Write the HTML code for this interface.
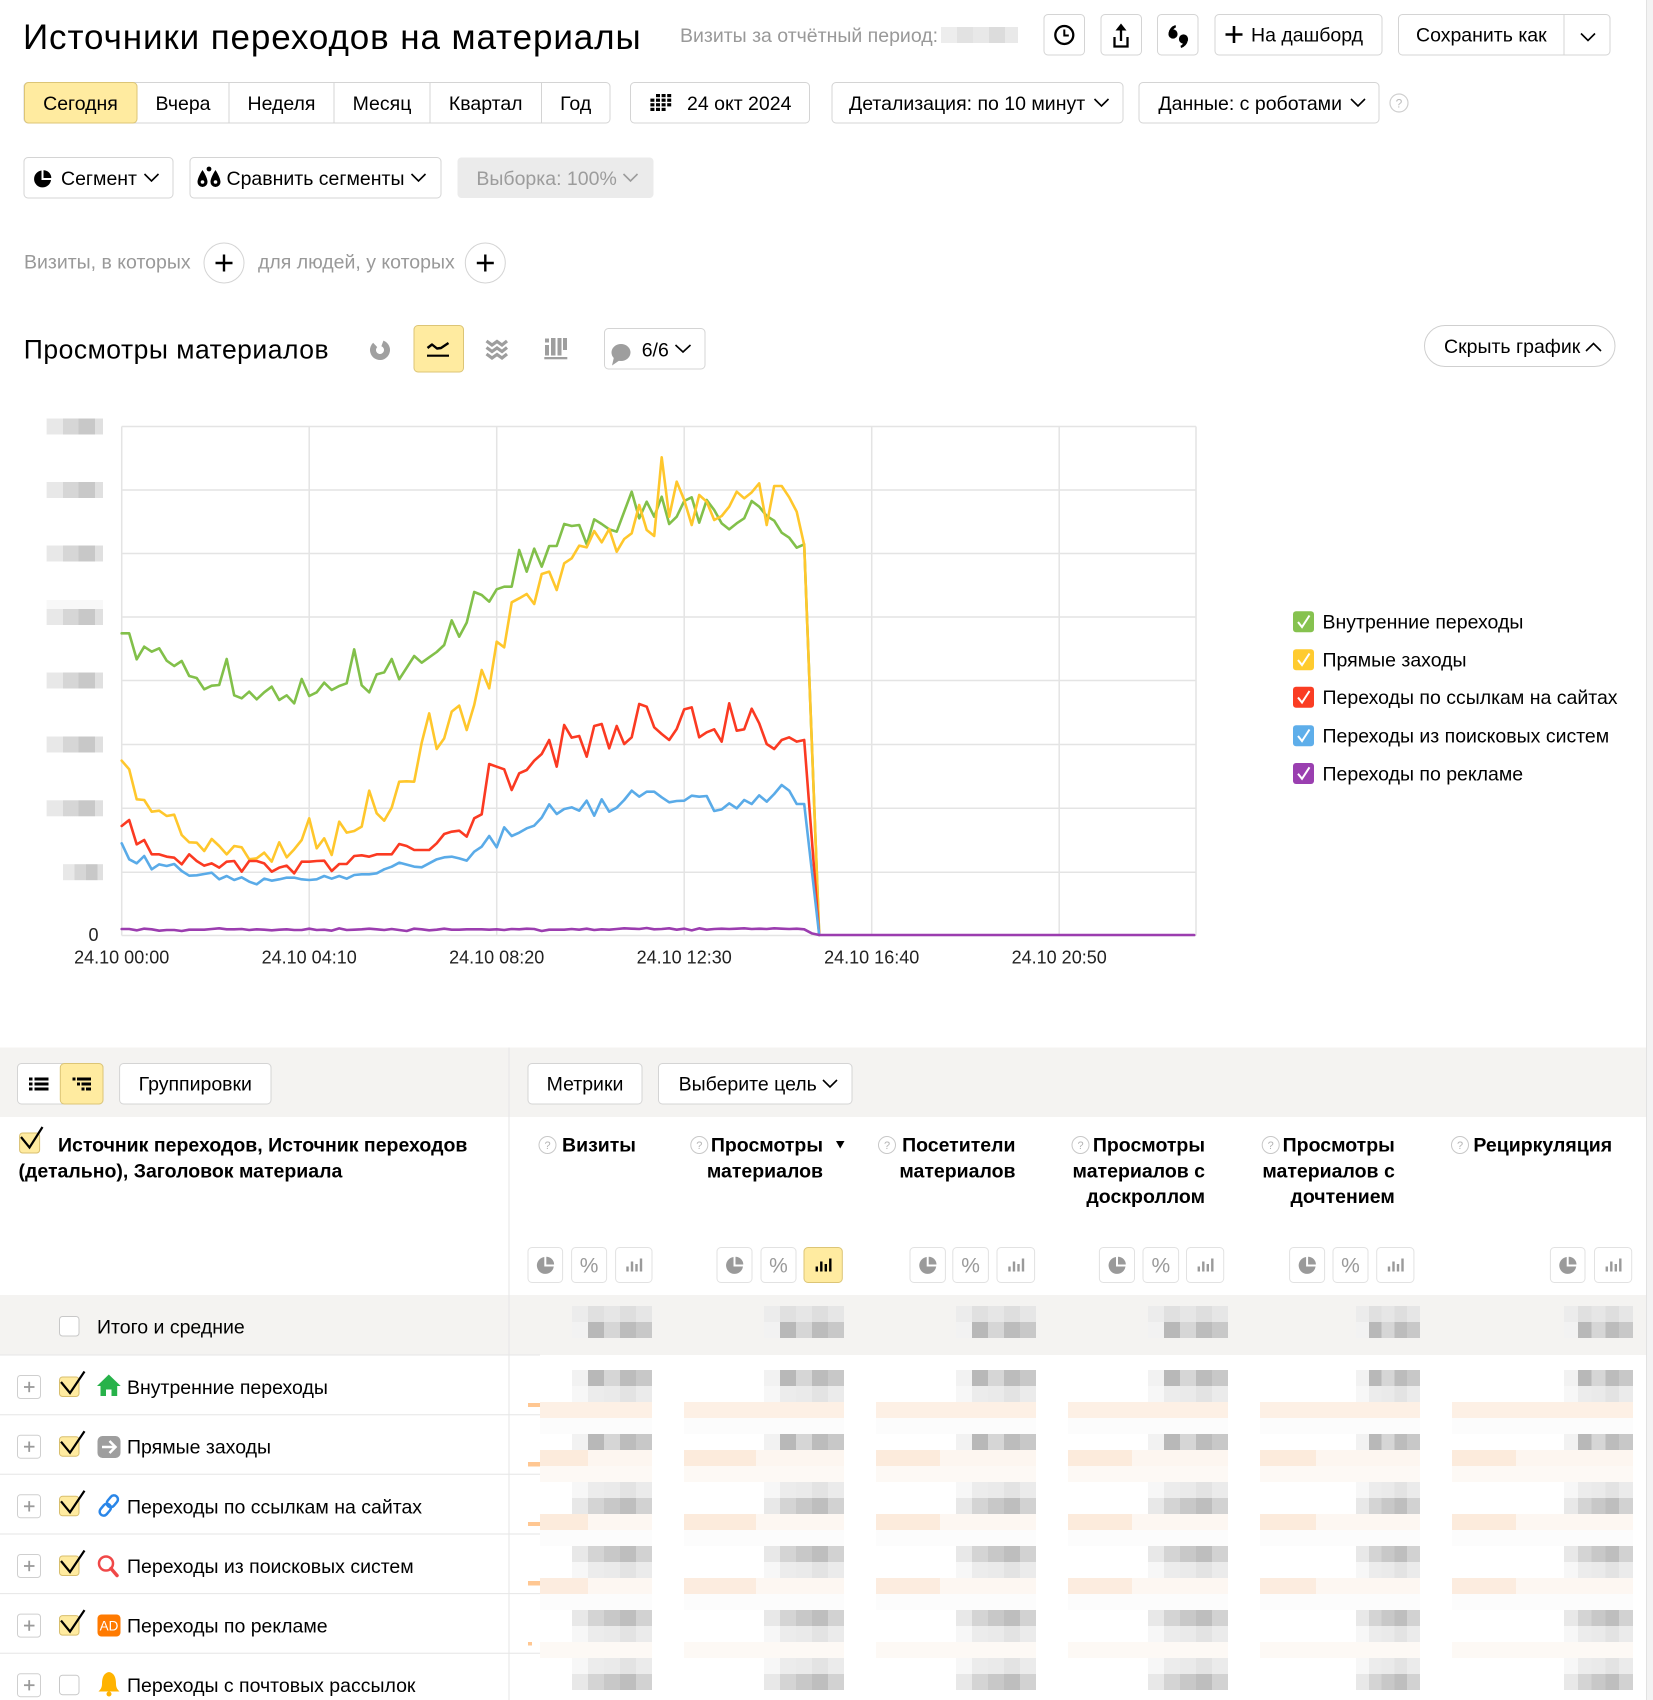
<!DOCTYPE html>
<html lang="ru">
<head>
<meta charset="utf-8">
<title>Источники переходов на материалы</title>
<style>
html,body{margin:0;padding:0;background:#fff;}
body{width:1653px;height:1700px;overflow:hidden;}
svg{display:block;}
text{font-family:"Liberation Sans",Arial,sans-serif;font-size:19.5px;fill:#000;}
.g{fill:#999;}
.bd{font-weight:bold;}
.btn{fill:#fff;stroke:#d4d4d4;stroke-width:1;}
.sb{fill:#fff;stroke:#e2e2e2;stroke-width:1;}
.chev{fill:none;stroke:#000;stroke-width:1.6;}
.grid{stroke:#e4e4e4;stroke-width:1.5;}
.ser{fill:none;stroke-width:2.6;stroke-linejoin:round;stroke-linecap:round;}
.q{fill:none;stroke:#c8c8c8;stroke-width:1;}
.qt{font-size:11px;fill:#b4b4b4;}
.ax{font-size:18px;fill:#222;}
</style>
</head>
<body>
<svg width="1653" height="1700" viewBox="0 0 1653 1700" xmlns="http://www.w3.org/2000/svg">
<defs>
  <linearGradient id="gd"><stop offset="0" stop-color="#f2f2f2"/><stop offset=".2" stop-color="#f2f2f2"/><stop offset=".2" stop-color="#b8b8b8"/><stop offset=".4" stop-color="#b8b8b8"/><stop offset=".4" stop-color="#d6d6d6"/><stop offset=".6" stop-color="#d6d6d6"/><stop offset=".6" stop-color="#bcbcbc"/><stop offset=".8" stop-color="#bcbcbc"/><stop offset=".8" stop-color="#c8c8c8"/><stop offset="1" stop-color="#c8c8c8"/></linearGradient>
  <linearGradient id="gm"><stop offset="0" stop-color="#e8e8e8"/><stop offset=".2" stop-color="#e8e8e8"/><stop offset=".2" stop-color="#d4d4d4"/><stop offset=".4" stop-color="#d4d4d4"/><stop offset=".4" stop-color="#c8c8c8"/><stop offset=".6" stop-color="#c8c8c8"/><stop offset=".6" stop-color="#bebebe"/><stop offset=".8" stop-color="#bebebe"/><stop offset=".8" stop-color="#d2d2d2"/><stop offset="1" stop-color="#d2d2d2"/></linearGradient>
  <linearGradient id="gl"><stop offset="0" stop-color="#f7f7f7"/><stop offset=".2" stop-color="#f7f7f7"/><stop offset=".2" stop-color="#ececec"/><stop offset=".4" stop-color="#ececec"/><stop offset=".4" stop-color="#eaeaea"/><stop offset=".6" stop-color="#eaeaea"/><stop offset=".6" stop-color="#e3e3e3"/><stop offset=".8" stop-color="#e3e3e3"/><stop offset=".8" stop-color="#ebebeb"/><stop offset="1" stop-color="#ebebeb"/></linearGradient>
  <linearGradient id="gt"><stop offset="0" stop-color="#ececec"/><stop offset=".2" stop-color="#ececec"/><stop offset=".2" stop-color="#e0e0e0"/><stop offset=".4" stop-color="#e0e0e0"/><stop offset=".4" stop-color="#e6e6e6"/><stop offset=".6" stop-color="#e6e6e6"/><stop offset=".6" stop-color="#dedede"/><stop offset=".8" stop-color="#dedede"/><stop offset=".8" stop-color="#e6e6e6"/><stop offset="1" stop-color="#e6e6e6"/></linearGradient>
  <linearGradient id="gy"><stop offset="0" stop-color="#e8e8e8"/><stop offset=".29" stop-color="#e8e8e8"/><stop offset=".29" stop-color="#d6d6d6"/><stop offset=".57" stop-color="#d6d6d6"/><stop offset=".57" stop-color="#c8c8c8"/><stop offset=".86" stop-color="#c8c8c8"/><stop offset=".86" stop-color="#e0e0e0"/><stop offset="1" stop-color="#e0e0e0"/></linearGradient>
  <g id="cv">
    <rect x="572" y="0" width="80" height="16"/>
    <rect x="764" y="0" width="80" height="16"/>
    <rect x="956" y="0" width="80" height="16"/>
    <rect x="1148" y="0" width="80" height="16"/>
    <rect x="1356" y="0" width="64" height="16"/>
    <rect x="1564" y="0" width="69" height="16"/>
  </g>
  <g id="pf">
    <rect x="540" y="0" width="112" height="16"/>
    <rect x="684" y="0" width="160" height="16"/>
    <rect x="876" y="0" width="160" height="16"/>
    <rect x="1068" y="0" width="160" height="16"/>
    <rect x="1260" y="0" width="160" height="16"/>
    <rect x="1452" y="0" width="181" height="16"/>
  </g>
  <g id="pp">
    <rect x="540" y="0" width="48" height="16"/>
    <rect x="684" y="0" width="72" height="16"/>
    <rect x="876" y="0" width="64" height="16"/>
    <rect x="1068" y="0" width="64" height="16"/>
    <rect x="1260" y="0" width="56" height="16"/>
    <rect x="1452" y="0" width="64" height="16"/>
  </g>
  <g id="ipie">
    <path d="M-1,1 L-1,-8.5 A8.5,8.5 0 1,0 8.5,1 Z"/>
    <path d="M1,-1 L1,-8.8 A7.8,7.8 0 0,1 8.8,-1 Z"/>
  </g>
  <g id="ibar">
    <rect x="-8" y="2" width="2.4" height="5"/>
    <rect x="-3.5" y="-3" width="2.4" height="10"/>
    <rect x="1" y="-0.5" width="2.4" height="7.5"/>
    <rect x="5.5" y="-6" width="2.4" height="13"/>
  </g>
</defs>

<!-- scrollbar strip -->
<rect x="1646" y="0" width="7" height="1700" fill="#f3f3f3"/>
<line x1="1646.5" y1="0" x2="1646.5" y2="1700" stroke="#e2e2e2"/>

<!-- ===== HEADER ===== -->
<text x="23" y="49" letter-spacing="0.9" style="font-size:35px">Источники переходов на материалы</text>
<text x="680" y="42" class="g">Визиты за отчётный период:</text>
<rect x="941" y="27" width="16" height="16" fill="#ededed"/>
<rect x="957" y="27" width="16" height="16" fill="#e2e2e2"/>
<rect x="973" y="27" width="16" height="16" fill="#e8e8e8"/>
<rect x="989" y="27" width="16" height="16" fill="#dcdcdc"/>
<rect x="1005" y="27" width="13" height="16" fill="#e9e9e9"/>

<rect class="btn" x="1044" y="14.5" width="40.5" height="40.5" rx="4"/>
<circle cx="1064.3" cy="35" r="9" fill="none" stroke="#000" stroke-width="2.3"/>
<polyline points="1064.3,29.5 1064.3,35.5 1068.8,35.5" fill="none" stroke="#000" stroke-width="2"/>

<rect class="btn" x="1101" y="14.5" width="40.5" height="40.5" rx="4"/>
<path d="M1114.5,37 V46.5 H1127.5 V37" fill="none" stroke="#000" stroke-width="2.3"/>
<line x1="1121" y1="28" x2="1121" y2="41" stroke="#000" stroke-width="2.3"/>
<polygon points="1115.5,30.5 1121,23.5 1126.5,30.5" fill="#000"/>

<rect class="btn" x="1157.5" y="14.5" width="40.5" height="40.5" rx="4"/>
<circle cx="1173" cy="34" r="4.6" fill="#000"/>
<path d="M1168.6,33 Q1169.5,27 1175.5,25 L1176,27.2 Q1172.5,29 1172.8,32 Z" fill="#000"/>
<circle cx="1183.5" cy="39" r="4.6" fill="#000"/>
<path d="M1187.9,40 Q1187,46 1181,48 L1180.5,45.8 Q1184,44 1183.7,41 Z" fill="#000"/>

<rect class="btn" x="1215" y="14.5" width="167" height="40.5" rx="4"/>
<line x1="1234" y1="26" x2="1234" y2="43" stroke="#000" stroke-width="2.6"/>
<line x1="1225.5" y1="34.5" x2="1242.5" y2="34.5" stroke="#000" stroke-width="2.6"/>
<text x="1251" y="41.7">На дашборд</text>

<rect class="btn" x="1398.5" y="14.5" width="211.5" height="40.5" rx="4"/>
<line x1="1564" y1="14.5" x2="1564" y2="55" stroke="#d4d4d4"/>
<text x="1416" y="41.7">Сохранить как</text>
<polyline class="chev" points="1581,33.5 1588,40.5 1595,33.5"/>

<!-- row 2 -->
<rect class="btn" x="24" y="82.5" width="586" height="40.5" rx="4"/>
<rect x="24.5" y="82.5" width="112.5" height="40.5" rx="4" fill="#ffeba0" stroke="#dcc576"/>
<line x1="229" y1="82.5" x2="229" y2="123" stroke="#d4d4d4"/>
<line x1="334" y1="82.5" x2="334" y2="123" stroke="#d4d4d4"/>
<line x1="430" y1="82.5" x2="430" y2="123" stroke="#d4d4d4"/>
<line x1="541.5" y1="82.5" x2="541.5" y2="123" stroke="#d4d4d4"/>
<text x="80.5" y="109.8" text-anchor="middle">Сегодня</text>
<text x="183" y="109.8" text-anchor="middle">Вчера</text>
<text x="281.5" y="109.8" text-anchor="middle">Неделя</text>
<text x="382" y="109.8" text-anchor="middle">Месяц</text>
<text x="485.7" y="109.8" text-anchor="middle">Квартал</text>
<text x="575.7" y="109.8" text-anchor="middle">Год</text>

<rect class="btn" x="630.5" y="82.5" width="179" height="40.5" rx="4"/>
<g fill="#000">
  <rect x="656" y="94" width="4" height="3.2"/><rect x="661.6" y="94" width="4" height="3.2"/><rect x="667.2" y="94" width="4" height="3.2"/>
  <rect x="650.4" y="98.6" width="4" height="3.2"/><rect x="656" y="98.6" width="4" height="3.2"/><rect x="661.6" y="98.6" width="4" height="3.2"/><rect x="667.2" y="98.6" width="4" height="3.2"/>
  <rect x="650.4" y="103.2" width="4" height="3.2"/><rect x="656" y="103.2" width="4" height="3.2"/><rect x="661.6" y="103.2" width="4" height="3.2"/><rect x="667.2" y="103.2" width="4" height="3.2"/>
  <rect x="650.4" y="107.8" width="4" height="3.2"/><rect x="656" y="107.8" width="4" height="3.2"/><rect x="661.6" y="107.8" width="4" height="3.2"/>
</g>
<text x="687" y="109.8">24 окт 2024</text>

<rect class="btn" x="832" y="82.5" width="291" height="40.5" rx="4"/>
<text x="849" y="109.8">Детализация: по 10 минут</text>
<polyline class="chev" points="1094.5,99 1101.5,106 1108.5,99"/>

<rect class="btn" x="1139" y="82.5" width="240" height="40.5" rx="4"/>
<text x="1158.4" y="109.8">Данные: с роботами</text>
<polyline class="chev" points="1351,99 1358,106 1365,99"/>

<circle cx="1399" cy="103" r="9" fill="none" stroke="#cfcfcf" stroke-width="1.2"/>
<text x="1399" y="107.5" text-anchor="middle" style="font-size:12px;fill:#bbb">?</text>

<!-- row 3 -->
<rect class="btn" x="24" y="157.5" width="149" height="40.5" rx="4"/>
<g transform="translate(42.5,179)" fill="#000"><use href="#ipie"/></g>
<text x="61" y="184.8">Сегмент</text>
<polyline class="chev" points="144.5,174 151.5,181 158.5,174"/>

<rect class="btn" x="190" y="157.5" width="251" height="40.5" rx="4"/>
<path d="M202.5,170 C202.5,170 197.5,177.5 197.5,182 A5,5 0 0 0 207.5,182 C207.5,177.5 202.5,170 202.5,170 Z" fill="#000"/>
<circle cx="202.5" cy="182" r="1.8" fill="#fff"/>
<path d="M215.5,170 C215.5,170 210.5,177.5 210.5,182 A5,5 0 0 0 220.5,182 C220.5,177.5 215.5,170 215.5,170 Z" fill="#000"/>
<circle cx="215.5" cy="182" r="1.8" fill="#fff"/>
<circle cx="209" cy="169" r="2.4" fill="#000"/>
<text x="226.5" y="184.8">Сравнить сегменты</text>
<polyline class="chev" points="411.5,174 418.5,181 425.5,174"/>

<rect x="457.5" y="157.5" width="196" height="40.5" rx="4" fill="#ebebeb"/>
<text x="476.4" y="184.8" style="fill:#9c9c9c">Выборка: 100%</text>
<polyline class="chev" points="623.5,174 630.5,181 637.5,174" style="stroke:#9c9c9c"/>

<!-- row 4 -->
<text x="24" y="268.7" class="g">Визиты, в которых</text>
<circle cx="224" cy="263" r="20" fill="#fff" stroke="#d4d4d4"/>
<line x1="224" y1="254.5" x2="224" y2="271.5" stroke="#000" stroke-width="2.4"/>
<line x1="215.5" y1="263" x2="232.5" y2="263" stroke="#000" stroke-width="2.4"/>
<text x="258" y="268.7" class="g">для людей, у которых</text>
<circle cx="485.3" cy="263" r="20" fill="#fff" stroke="#d4d4d4"/>
<line x1="485.3" y1="254.5" x2="485.3" y2="271.5" stroke="#000" stroke-width="2.4"/>
<line x1="476.8" y1="263" x2="493.8" y2="263" stroke="#000" stroke-width="2.4"/>

<!-- ===== CHART HEADER ===== -->
<text x="23.8" y="358.3" letter-spacing="0.5" style="font-size:26.5px">Просмотры материалов</text>
<circle cx="380" cy="350" r="7" fill="none" stroke="#a0a0a0" stroke-width="6" stroke-dasharray="36 8" transform="rotate(-70 380 350)"/>
<rect x="414" y="325.5" width="49.5" height="46.5" rx="4" fill="#ffeba0" stroke="#dcc576"/>
<polyline points="427.5,348 432,344.5 437,348.5 441,348 448.5,343" fill="none" stroke="#000" stroke-width="2.4" stroke-linejoin="round"/>
<line x1="427" y1="355.7" x2="449" y2="355.7" stroke="#000" stroke-width="2.2"/>
<g fill="none" stroke="#9e9e9e" stroke-width="3.2">
  <polyline points="486.5,341 492,345 497,341.5 502,345 507,341"/>
  <polyline points="486.5,347.5 492,351.5 497,348 502,351.5 507,347.5"/>
  <polyline points="486.5,354 492,358 497,354.5 502,358 507,354"/>
</g>
<g fill="#9e9e9e">
  <rect x="545" y="345" width="4" height="10.5"/>
  <rect x="545" y="338.5" width="4" height="4"/>
  <rect x="551" y="338" width="4.5" height="17.5"/>
  <rect x="557.5" y="338" width="4" height="17.5"/>
  <rect x="563" y="338" width="4" height="12"/>
  <rect x="544.3" y="357" width="23" height="2.3"/>
</g>
<rect class="btn" x="604.5" y="328.5" width="100.5" height="40.5" rx="4"/>
<ellipse cx="621" cy="352.5" rx="9.5" ry="8.5" fill="#9e9e9e"/>
<polygon points="614,357 612,365.5 620,360" fill="#9e9e9e"/>
<text x="641.7" y="356.7">6/6</text>
<polyline class="chev" points="675.5,345 683,352 690.5,345"/>

<rect x="1424.5" y="325.5" width="190.5" height="41" rx="20.5" fill="#fff" stroke="#cfcfcf"/>
<text x="1444" y="353">Скрыть график</text>
<polyline class="chev" points="1586,351 1593.5,343.5 1601,351"/>

<!-- ===== CHART ===== -->
<g class="grid">
  <line x1="121.7" y1="426.5" x2="1196" y2="426.5"/>
  <line x1="121.7" y1="490" x2="1196" y2="490"/>
  <line x1="121.7" y1="553.5" x2="1196" y2="553.5"/>
  <line x1="121.7" y1="617" x2="1196" y2="617"/>
  <line x1="121.7" y1="680.5" x2="1196" y2="680.5"/>
  <line x1="121.7" y1="744.5" x2="1196" y2="744.5"/>
  <line x1="121.7" y1="808.3" x2="1196" y2="808.3"/>
  <line x1="121.7" y1="872.2" x2="1196" y2="872.2"/>
  <line x1="121.7" y1="935.5" x2="1196" y2="935.5"/>
  <line x1="121.7" y1="426.5" x2="121.7" y2="935.5"/>
  <line x1="309.2" y1="426.5" x2="309.2" y2="935.5"/>
  <line x1="496.7" y1="426.5" x2="496.7" y2="935.5"/>
  <line x1="684.2" y1="426.5" x2="684.2" y2="935.5"/>
  <line x1="871.7" y1="426.5" x2="871.7" y2="935.5"/>
  <line x1="1059.2" y1="426.5" x2="1059.2" y2="935.5"/>
  <line x1="1196" y1="426.5" x2="1196" y2="935.5"/>
</g>
<!-- y labels (blurred) -->
<g fill="url(#gy)">
  <rect x="46.6" y="418.5" width="56.4" height="16"/>
  <rect x="46.6" y="482" width="56.4" height="16"/>
  <rect x="46.6" y="545.5" width="56.4" height="16"/>
  <rect x="46.6" y="609" width="56.4" height="16"/>
  <rect x="46.6" y="672.5" width="56.4" height="16"/>
  <rect x="46.6" y="736.5" width="56.4" height="16"/>
  <rect x="46.6" y="800.3" width="56.4" height="16"/>
  <rect x="63" y="864.2" width="40" height="16"/>
</g>
<rect x="46.6" y="600" width="56.4" height="9" fill="#f8f8f8"/>
<text x="93.5" y="941" text-anchor="middle" class="ax">0</text>
<text x="121.7" y="963.5" text-anchor="middle" class="ax">24.10 00:00</text>
<text x="309.2" y="963.5" text-anchor="middle" class="ax">24.10 04:10</text>
<text x="496.7" y="963.5" text-anchor="middle" class="ax">24.10 08:20</text>
<text x="684.2" y="963.5" text-anchor="middle" class="ax">24.10 12:30</text>
<text x="871.7" y="963.5" text-anchor="middle" class="ax">24.10 16:40</text>
<text x="1059.2" y="963.5" text-anchor="middle" class="ax">24.10 20:50</text>

<g transform="translate(121.7,440) scale(7.5,0.333333)">
<polyline class="ser" vector-effect="non-scaling-stroke" stroke="#82c04a" points="0,580 1,580 2,658 3,620 4,635 5,625 6,662 7,678 8,663 9,708 10,714 11,748 12,737 13,735 14,657 15,766 16,775 17,755 18,778 19,757 20,740 21,780 22,766 23,790 24,717 25,768 26,757 27,728 28,750 29,738 30,730 31,628 32,736 33,757 34,703 35,697 36,657 37,718 38,683 39,648 40,668 41,652 42,636 43,615 44,541 45,590 46,548 47,456 48,465 49,485 50,448 51,440 52,440 53,330 54,395 55,326 56,380 57,318 58,318 59,252 60,258 61,255 62,313 63,238 64,252 65,268 66,275 67,215 68,155 69,235 70,185 71,230 72,170 73,252 74,230 75,183 76,172 77,248 78,180 79,210 80,250 81,268 82,250 83,235 84,183 85,200 86,228 87,242 88,278 89,293 90,323 91,313 93,1485"/>
<polyline class="ser" vector-effect="non-scaling-stroke" stroke="#ffc72c" points="0,962 1,988 2,1078 3,1080 4,1115 5,1112 6,1128 7,1124 8,1185 9,1207 10,1208 11,1233 12,1197 13,1218 14,1243 15,1218 16,1222 17,1258 18,1255 19,1238 20,1265 21,1207 22,1252 23,1228 24,1200 25,1135 26,1225 27,1195 28,1245 29,1145 30,1178 31,1173 32,1160 33,1052 34,1120 35,1142 36,1103 37,1025 38,1024 39,1025 40,908 41,820 42,927 43,895 44,815 45,797 46,870 47,795 48,690 49,745 50,605 51,622 52,487 53,475 54,462 55,492 56,402 57,395 58,450 59,370 60,355 61,317 62,322 63,273 64,307 65,267 66,335 67,297 68,280 69,195 70,270 71,288 72,52 73,230 74,125 75,180 76,255 77,165 78,185 79,240 80,228 81,200 82,155 83,175 84,157 85,130 86,255 87,138 88,138 89,172 90,215 91,315 93,1485"/>
<polyline class="ser" vector-effect="non-scaling-stroke" stroke="#fb3a22" points="0,1158 1,1140 2,1213 3,1200 4,1243 5,1243 6,1250 7,1253 8,1273 9,1243 10,1263 11,1277 12,1270 13,1283 14,1265 15,1263 16,1295 17,1263 18,1263 19,1270 20,1295 21,1283 22,1277 23,1300 24,1265 25,1265 26,1263 27,1262 28,1293 29,1272 30,1272 31,1248 32,1246 33,1250 34,1243 35,1243 36,1243 37,1212 38,1218 39,1230 40,1230 41,1230 42,1210 43,1182 44,1175 45,1172 46,1190 47,1135 48,1123 49,972 50,980 51,988 52,1050 53,1000 54,990 55,962 56,942 57,900 58,980 59,855 60,893 61,888 62,950 63,858 64,852 65,925 66,858 67,912 68,892 69,792 70,800 71,862 72,882 73,900 74,867 75,808 76,802 77,892 78,877 79,868 80,905 81,790 82,872 83,868 84,806 85,850 86,912 87,927 88,900 89,892 90,905 91,900 93,1485"/>
<polyline class="ser" vector-effect="non-scaling-stroke" stroke="#5aabe8" points="0,1210 1,1258 2,1270 3,1248 4,1288 5,1273 6,1278 7,1272 8,1293 9,1307 10,1306 11,1302 12,1298 13,1318 14,1308 15,1320 16,1312 17,1325 18,1333 19,1316 20,1322 21,1318 22,1313 23,1313 24,1318 25,1320 26,1318 27,1308 28,1316 29,1308 30,1316 31,1305 32,1303 33,1303 34,1300 35,1288 36,1280 37,1268 38,1274 39,1280 40,1282 41,1270 42,1258 43,1252 44,1250 45,1255 46,1262 47,1235 48,1220 49,1188 50,1222 51,1162 52,1188 53,1178 54,1165 55,1157 56,1133 57,1093 58,1122 59,1107 60,1102 61,1112 62,1082 63,1127 64,1078 65,1115 66,1103 67,1080 68,1052 69,1070 70,1055 71,1055 72,1072 73,1087 74,1083 75,1082 76,1067 77,1070 78,1068 79,1113 80,1108 81,1090 82,1105 83,1080 84,1092 85,1066 86,1085 87,1062 88,1035 89,1052 90,1092 91,1092 93,1485"/>
<polyline class="ser" vector-effect="non-scaling-stroke" stroke="#9b3daf" points="0,1467 1,1467 2,1471 3,1466 4,1468 5,1472 6,1470 7,1470 8,1473 9,1469 10,1469 11,1469 12,1467 13,1465 14,1468 15,1468 16,1467 17,1470 18,1468 19,1469 20,1471 21,1469 22,1468 23,1470 24,1470 25,1466 26,1470 27,1469 28,1472 29,1465 30,1470 31,1469 32,1468 33,1466 34,1468 35,1470 36,1467 37,1470 38,1473 39,1466 40,1468 41,1471 42,1469 43,1466 44,1469 45,1469 46,1468 47,1468 48,1468 49,1469 50,1468 51,1470 52,1467 53,1468 54,1466 55,1467 56,1473 57,1469 58,1469 59,1469 60,1467 61,1469 62,1466 63,1470 64,1468 65,1469 66,1467 67,1465 68,1466 69,1467 70,1464 71,1468 72,1467 73,1465 74,1469 75,1466 76,1471 77,1465 78,1469 79,1467 80,1466 81,1467 82,1466 83,1465 84,1467 85,1466 86,1467 87,1465 88,1466 89,1467 90,1466 91,1468 92,1480 93,1485 143,1485"/>
</g>

<!-- legend -->
<g>
  <rect x="1293" y="611.2" width="21" height="21" rx="3" fill="#86c24f"/>
  <polyline points="1298,622 1302,627 1309.5,615.5" fill="none" stroke="#fff" stroke-width="2"/>
  <text x="1322.5" y="628.7">Внутренние переходы</text>
  <rect x="1293" y="649.2" width="21" height="21" rx="3" fill="#ffcb2f"/>
  <polyline points="1298,660 1302,665 1309.5,653.5" fill="none" stroke="#fff" stroke-width="2"/>
  <text x="1322.5" y="666.7">Прямые заходы</text>
  <rect x="1293" y="686.7" width="21" height="21" rx="3" fill="#fa3d23"/>
  <polyline points="1298,697.5 1302,702.5 1309.5,691" fill="none" stroke="#fff" stroke-width="2"/>
  <text x="1322.5" y="704.2">Переходы по ссылкам на сайтах</text>
  <rect x="1293" y="725.2" width="21" height="21" rx="3" fill="#5eaeea"/>
  <polyline points="1298,736 1302,741 1309.5,729.5" fill="none" stroke="#fff" stroke-width="2"/>
  <text x="1322.5" y="742.7">Переходы из поисковых систем</text>
  <rect x="1293" y="763" width="21" height="21" rx="3" fill="#9a3fb0"/>
  <polyline points="1298,773.8 1302,778.8 1309.5,767.3" fill="none" stroke="#fff" stroke-width="2"/>
  <text x="1322.5" y="780.5">Переходы по рекламе</text>
</g>

<!-- ===== TABLE ===== -->
<rect x="0" y="1047.5" width="1646" height="69.5" fill="#f4f3f1"/>
<rect x="0" y="1295" width="1646" height="60" fill="#f4f3f1"/>
<line x1="509" y1="1047.5" x2="509" y2="1700" stroke="#e6e6e6"/>

<rect class="btn" x="17.5" y="1063.5" width="85.5" height="40.5" rx="4"/>
<rect x="60.3" y="1063.5" width="42.7" height="40.5" rx="4" fill="#ffeba0" stroke="#dcc576"/>
<g fill="#000">
  <rect x="29" y="1077.5" width="3.5" height="3"/><rect x="34.5" y="1077.5" width="14" height="3"/>
  <rect x="29" y="1082.5" width="3.5" height="3"/><rect x="34.5" y="1082.5" width="14" height="3"/>
  <rect x="29" y="1087.5" width="3.5" height="3"/><rect x="34.5" y="1087.5" width="14" height="3"/>
  <rect x="72.5" y="1077.5" width="3" height="3"/><rect x="77" y="1077.5" width="14" height="3"/>
  <rect x="77" y="1082.5" width="3" height="3"/><rect x="81.5" y="1082.5" width="9.5" height="3"/>
  <rect x="81.5" y="1087.5" width="3" height="3"/><rect x="86" y="1087.5" width="5" height="3"/>
</g>
<rect class="btn" x="119.6" y="1063.5" width="151.4" height="40.5" rx="4"/>
<text x="195.3" y="1090.7" text-anchor="middle">Группировки</text>
<rect class="btn" x="528" y="1063.5" width="114" height="40.5" rx="4"/>
<text x="585" y="1090.7" text-anchor="middle">Метрики</text>
<rect class="btn" x="658.5" y="1063.5" width="193.5" height="40.5" rx="4"/>
<text x="678.6" y="1090.7">Выберите цель</text>
<polyline class="chev" points="823,1080 830,1087 837,1080"/>

<!-- header -->
<rect x="19.6" y="1133" width="20" height="20" rx="3" fill="#ffeba0" stroke="#d8bf6e"/>
<polyline points="21,1137 29.5,1147.5 42.5,1127" fill="none" stroke="#000" stroke-width="2.2"/>
<text x="58" y="1151.7" class="bd">Источник переходов, Источник переходов</text>
<text x="18.5" y="1177.3" class="bd">(детально), Заголовок материала</text>

<circle class="q" cx="547.5" cy="1145" r="8.5"/><text class="qt" x="547.5" y="1149" text-anchor="middle">?</text>
<text x="562" y="1151.7" class="bd">Визиты</text>

<circle class="q" cx="699.3" cy="1145" r="8.5"/><text class="qt" x="699.3" y="1149" text-anchor="middle">?</text>
<text x="823" y="1151.7" class="bd" text-anchor="end">Просмотры</text>
<text x="823" y="1177.3" class="bd" text-anchor="end">материалов</text>
<polygon points="836,1141 844.5,1141 840.2,1148.5" fill="#000"/>

<circle class="q" cx="887" cy="1145" r="8.5"/><text class="qt" x="887" y="1149" text-anchor="middle">?</text>
<text x="1015.5" y="1151.7" class="bd" text-anchor="end">Посетители</text>
<text x="1015.5" y="1177.3" class="bd" text-anchor="end">материалов</text>

<circle class="q" cx="1080.5" cy="1145" r="8.5"/><text class="qt" x="1080.5" y="1149" text-anchor="middle">?</text>
<text x="1205" y="1151.7" class="bd" text-anchor="end">Просмотры</text>
<text x="1205" y="1177.3" class="bd" text-anchor="end">материалов с</text>
<text x="1205" y="1203" class="bd" text-anchor="end">доскроллом</text>

<circle class="q" cx="1270.7" cy="1145" r="8.5"/><text class="qt" x="1270.7" y="1149" text-anchor="middle">?</text>
<text x="1394.8" y="1151.7" class="bd" text-anchor="end">Просмотры</text>
<text x="1394.8" y="1177.3" class="bd" text-anchor="end">материалов с</text>
<text x="1394.8" y="1203" class="bd" text-anchor="end">дочтением</text>

<circle class="q" cx="1460" cy="1145" r="8.5"/><text class="qt" x="1460" y="1149" text-anchor="middle">?</text>
<text x="1473.4" y="1151.7" class="bd">Рециркуляция</text>

<!-- small metric buttons -->
<g>
  <rect class="sb" x="528" y="1247.5" width="34.6" height="35" rx="4"/>
  <rect class="sb" x="571.6" y="1247.5" width="35" height="35" rx="4"/>
  <rect class="sb" x="615.6" y="1247.5" width="36.4" height="35" rx="4"/>
  <rect class="sb" x="717" y="1247.5" width="35" height="35" rx="4"/>
  <rect class="sb" x="761" y="1247.5" width="35" height="35" rx="4"/>
  <rect x="804" y="1247.5" width="38.3" height="35" rx="4" fill="#ffeba0" stroke="#dcc576"/>
  <rect class="sb" x="910" y="1247.5" width="35.4" height="35" rx="4"/>
  <rect class="sb" x="952.8" y="1247.5" width="35.6" height="35" rx="4"/>
  <rect class="sb" x="997" y="1247.5" width="37.6" height="35" rx="4"/>
  <rect class="sb" x="1099.4" y="1247.5" width="35.1" height="35" rx="4"/>
  <rect class="sb" x="1143" y="1247.5" width="35.6" height="35" rx="4"/>
  <rect class="sb" x="1186.5" y="1247.5" width="37.2" height="35" rx="4"/>
  <rect class="sb" x="1289.6" y="1247.5" width="35" height="35" rx="4"/>
  <rect class="sb" x="1333" y="1247.5" width="35" height="35" rx="4"/>
  <rect class="sb" x="1376.7" y="1247.5" width="37.2" height="35" rx="4"/>
  <rect class="sb" x="1550.4" y="1247.5" width="34.6" height="35" rx="4"/>
  <rect class="sb" x="1594.5" y="1247.5" width="37.2" height="35" rx="4"/>
</g>
<g fill="#9a9a9a">
  <use href="#ipie" transform="translate(545.3,1265.5)"/>
  <use href="#ipie" transform="translate(734.5,1265.5)"/>
  <use href="#ipie" transform="translate(927.7,1265.5)"/>
  <use href="#ipie" transform="translate(1117,1265.5)"/>
  <use href="#ipie" transform="translate(1307.1,1265.5)"/>
  <use href="#ipie" transform="translate(1567.7,1265.5)"/>
  <use href="#ibar" transform="translate(634.3,1264.5)"/>
  <use href="#ibar" transform="translate(1016.3,1264.5)"/>
  <use href="#ibar" transform="translate(1205.6,1264.5)"/>
  <use href="#ibar" transform="translate(1395.8,1264.5)"/>
  <use href="#ibar" transform="translate(1613.6,1264.5)"/>
</g>
<use href="#ibar" transform="translate(823.6,1264.5)" fill="#000"/>
<g>
  <text x="589.1" y="1272.5" text-anchor="middle" style="font-size:21px;fill:#9a9a9a">%</text>
  <text x="778.5" y="1272.5" text-anchor="middle" style="font-size:21px;fill:#9a9a9a">%</text>
  <text x="970.6" y="1272.5" text-anchor="middle" style="font-size:21px;fill:#9a9a9a">%</text>
  <text x="1160.8" y="1272.5" text-anchor="middle" style="font-size:21px;fill:#9a9a9a">%</text>
  <text x="1350.5" y="1272.5" text-anchor="middle" style="font-size:21px;fill:#9a9a9a">%</text>
</g>

<!-- Итого row -->
<rect x="59.5" y="1316.5" width="19.5" height="19.5" rx="3" fill="#fff" stroke="#c8c8c8"/>
<text x="97" y="1333.5">Итого и средние</text>
<use href="#cv" y="1306" fill="url(#gt)"/>
<use href="#cv" y="1322" fill="url(#gd)"/>

<!-- row separators -->
<g stroke="#e6e6e6">
  <line x1="0" y1="1355" x2="540" y2="1355"/>
  <line x1="0" y1="1414.7" x2="540" y2="1414.7"/>
  <line x1="0" y1="1474.3" x2="540" y2="1474.3"/>
  <line x1="0" y1="1534" x2="540" y2="1534"/>
  <line x1="0" y1="1593.6" x2="540" y2="1593.6"/>
  <line x1="0" y1="1653.2" x2="540" y2="1653.2"/>
</g>

<!-- blurred row values -->
<use href="#cv" y="1370" fill="url(#gd)"/>
<use href="#cv" y="1386" fill="url(#gl)"/>
<use href="#pf" y="1402" fill="#fdf0e5"/>

<use href="#pf" y="1418" fill="#fcfcfc"/>
<use href="#cv" y="1434" fill="url(#gd)"/>
<use href="#pf" y="1450" fill="#fdf6f0"/>
<use href="#pp" y="1450" fill="#fcebdc"/>
<use href="#pf" y="1466" fill="#fdf9f5"/>

<use href="#cv" y="1482" fill="url(#gl)"/>
<use href="#cv" y="1498" fill="url(#gm)"/>
<use href="#pf" y="1514" fill="#fdf7f2"/>
<use href="#pp" y="1514" fill="#fcebdc"/>
<use href="#pf" y="1530" fill="#fcfcfc"/>

<use href="#cv" y="1546" fill="url(#gm)"/>
<use href="#cv" y="1562" fill="url(#gl)"/>
<use href="#pf" y="1578" fill="#fdf7f2"/>
<use href="#pp" y="1578" fill="#fcecdf"/>

<use href="#pf" y="1594" fill="#fcfcfc"/>
<use href="#cv" y="1610" fill="url(#gm)"/>
<use href="#cv" y="1626" fill="url(#gl)"/>
<use href="#pf" y="1642" fill="#fdf9f5"/>

<use href="#cv" y="1658" fill="url(#gl)"/>
<use href="#cv" y="1674" fill="url(#gm)"/>

<g fill="#ffc792">
  <rect x="528" y="1403" width="12" height="4"/>
  <rect x="528" y="1462" width="12" height="4.5"/>
  <rect x="528" y="1522" width="12" height="4"/>
  <rect x="528" y="1581" width="12" height="4.5"/>
  <rect x="528" y="1642" width="4" height="3.5"/>
</g>

<!-- rows left part -->
<g>
  <g fill="#fff" stroke="#cfcfcf">
    <rect x="17.5" y="1375.5" width="23" height="23" rx="3"/>
    <rect x="17.5" y="1435.2" width="23" height="23" rx="3"/>
    <rect x="17.5" y="1494.8" width="23" height="23" rx="3"/>
    <rect x="17.5" y="1554.5" width="23" height="23" rx="3"/>
    <rect x="17.5" y="1614.1" width="23" height="23" rx="3"/>
    <rect x="17.5" y="1673.7" width="23" height="23" rx="3"/>
  </g>
  <g stroke="#9a9a9a" stroke-width="1.8">
    <line x1="24" y1="1387" x2="34.5" y2="1387"/><line x1="29.2" y1="1381.8" x2="29.2" y2="1392.2"/>
    <line x1="24" y1="1446.7" x2="34.5" y2="1446.7"/><line x1="29.2" y1="1441.5" x2="29.2" y2="1451.9"/>
    <line x1="24" y1="1506.3" x2="34.5" y2="1506.3"/><line x1="29.2" y1="1501.1" x2="29.2" y2="1511.5"/>
    <line x1="24" y1="1566" x2="34.5" y2="1566"/><line x1="29.2" y1="1560.8" x2="29.2" y2="1571.2"/>
    <line x1="24" y1="1625.6" x2="34.5" y2="1625.6"/><line x1="29.2" y1="1620.4" x2="29.2" y2="1630.8"/>
    <line x1="24" y1="1685.2" x2="34.5" y2="1685.2"/><line x1="29.2" y1="1680" x2="29.2" y2="1690.4"/>
  </g>
  <g fill="#ffeba0" stroke="#d8bf6e">
    <rect x="59.5" y="1377" width="19.5" height="19.5" rx="3"/>
    <rect x="59.5" y="1436.7" width="19.5" height="19.5" rx="3"/>
    <rect x="59.5" y="1496.3" width="19.5" height="19.5" rx="3"/>
    <rect x="59.5" y="1556" width="19.5" height="19.5" rx="3"/>
    <rect x="59.5" y="1615.6" width="19.5" height="19.5" rx="3"/>
  </g>
  <rect x="59.5" y="1675.2" width="19.5" height="19.5" rx="3" fill="#fff" stroke="#c8c8c8"/>
  <g fill="none" stroke="#000" stroke-width="2.2">
    <polyline points="61,1382 70,1393 84.5,1371.5"/>
    <polyline points="61,1441.7 70,1452.7 84.5,1431.2"/>
    <polyline points="61,1501.3 70,1512.3 84.5,1490.8"/>
    <polyline points="61,1561 70,1572 84.5,1550.5"/>
    <polyline points="61,1620.6 70,1631.6 84.5,1610.1"/>
  </g>
  <path d="M108.8,1374.5 L97,1386 L100.5,1386 L100.5,1396 L106,1396 L106,1389.5 L111.5,1389.5 L111.5,1396 L117.2,1396 L117.2,1386 L120.7,1386 Z" fill="#27b24a"/>
  <rect x="97.5" y="1436" width="23" height="22" rx="5" fill="#9e9e9e"/>
  <g stroke="#fff" stroke-width="2.5" fill="none"><line x1="102" y1="1447" x2="115" y2="1447"/><polyline points="109.5,1441 115.5,1447 109.5,1453"/></g>
  <g transform="rotate(-50 108.8 1505.5)" fill="none" stroke="#2a86e8" stroke-width="2.5">
    <rect x="96.8" y="1501.5" width="13" height="8" rx="4"/>
    <rect x="107.8" y="1501.5" width="13" height="8" rx="4"/>
  </g>
  <circle cx="106" cy="1563.5" r="7" fill="none" stroke="#f04848" stroke-width="2.5"/>
  <line x1="111" y1="1568.5" x2="117" y2="1575.5" stroke="#f04848" stroke-width="3.5" stroke-linecap="round"/>
  <rect x="97.5" y="1614.5" width="23" height="22" rx="4" fill="#ff7a00"/>
  <text x="109" y="1630.5" text-anchor="middle" style="font-size:13.5px;fill:#fff">AD</text>
  <path d="M109,1672 C103.5,1673 102,1678 102,1684 C102,1688 100,1690 98.5,1691.5 L119.5,1691.5 C118,1690 116,1688 116,1684 C116,1678 114.5,1673 109,1672 Z" fill="#ffb300"/>
  <circle cx="109" cy="1694" r="2.5" fill="#ffb300"/>
  <text x="127" y="1394">Внутренние переходы</text>
  <text x="127" y="1453.7">Прямые заходы</text>
  <text x="127" y="1513.3">Переходы по ссылкам на сайтах</text>
  <text x="127" y="1573">Переходы из поисковых систем</text>
  <text x="127" y="1632.6">Переходы по рекламе</text>
  <text x="127" y="1692.2">Переходы с почтовых рассылок</text>
</g>
</svg>
</body>
</html>
